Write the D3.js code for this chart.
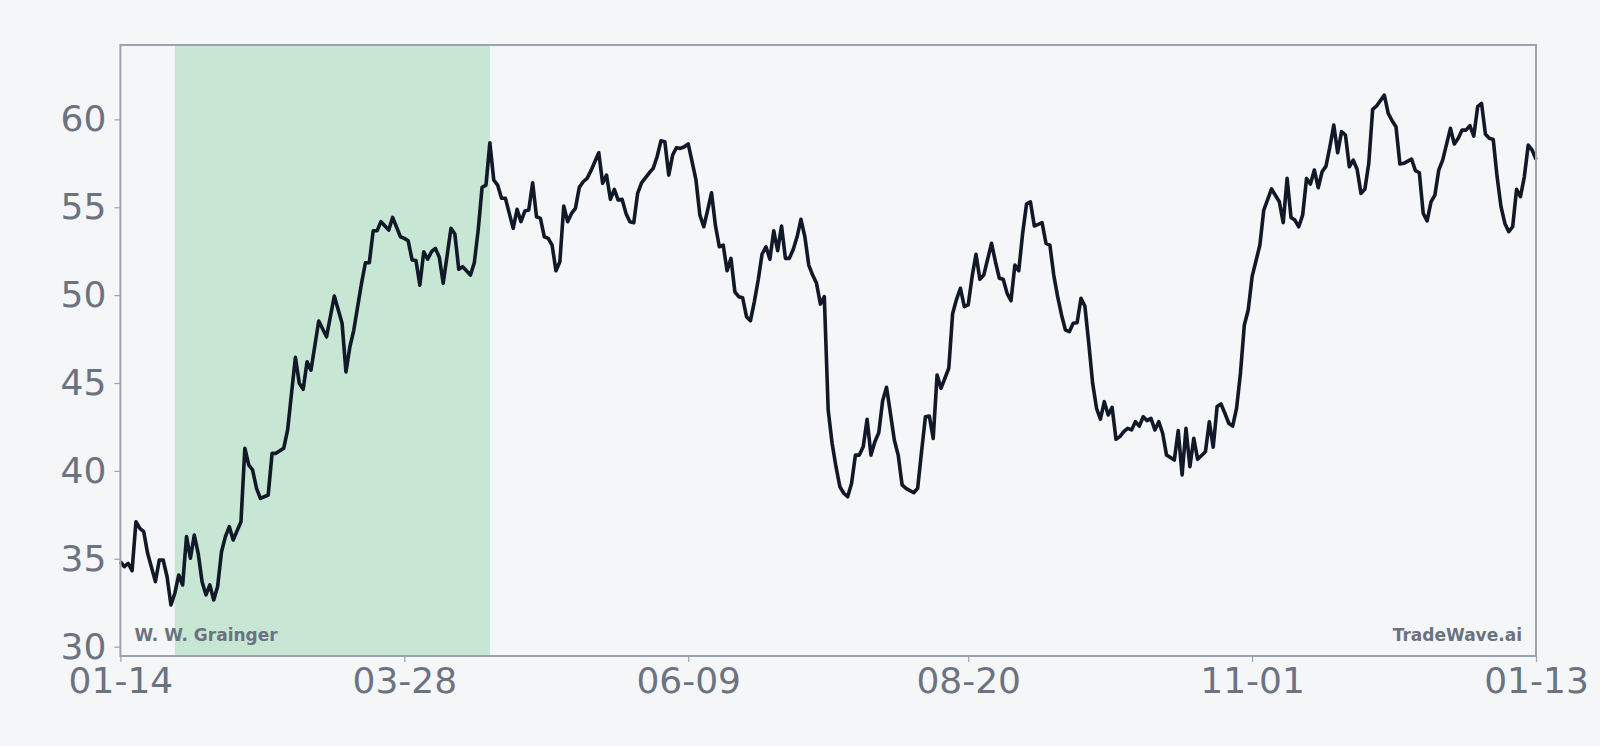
<!DOCTYPE html>
<html><head><meta charset="utf-8">
<script src="https://cdn.jsdelivr.net/npm/d3@7"></script>
<style>html,body{margin:0;padding:0;background:#f4f6f8;}svg{display:block;font-family:"DejaVu Sans",sans-serif;}</style>
</head><body><svg id="c" width="1600" height="746"></svg>
<script>
const startDate = "2023-01-14";
const endDate = "2024-01-13";
const shadeStartDay = 14, shadeEndDay = 95;
const dayOffsets = [0,1,2,3,4,5,6,7,9,10,11,12,13,14,15,16,17,18,19,20,21,22,23,24,25,26,27,28,29,31,32,33,34,35,36,38,39,40,42,43,44,45,46,47,48,49,51,53,55,57,58,59,60,62,63,64,65,66,67,69,70,72,73,74,75,76,77,78,79,80,81,82,83,85,86,87,88,90,91,92,93,94,95,96,97,98,99,100,
101,102,103,104,105,106,107,108,109,110,111,112,113,114,115,116,117,118,119,120,121,123,124,125,126,127,128,129,130,131,132,133,134,136,137,138,139,140,141,142,143,144,145,146,147,148,149,150,151,152,153,154,155,156,157,158,159,160,161,162,163,164,165,166,167,168,169,170,171,172,173,174,175,176,177,178,179,180,181,182,183,184,185,186,187,188,189,190,191,192,193,194,
195,196,197,198,199,200,201,202,204,205,206,207,208,209,210,211,213,214,215,216,217,218,219,220,221,222,224,225,226,227,228,229,230,231,232,233,234,235,237,238,239,240,241,242,243,244,245,246,247,248,249,250,251,252,253,254,255,256,257,258,259,260,261,262,263,264,265,266,267,268,269,271,272,273,274,275,276,277,279,280,281,282,
283,284,285,286,287,288,289,290,291,293,294,296,298,299,300,301,302,303,304,305,306,307,308,309,310,311,312,313,314,315,316,317,318,319,320,321,322,323,325,326,327,328,329,330,332,333,334,335,336,337,338,339,340,342,343,344,345,346,347,348,349,350,351,352,353,354,355,356,357,358,359,360,361,362,363,364];
const prices = [34.84,34.55,34.74,34.32,37.11,36.73,36.54,35.31,33.70,34.93,34.93,33.98,32.37,33.04,34.08,33.51,36.26,35.03,36.35,35.31,33.70,32.95,33.51,32.66,33.42,35.40,36.26,36.83,36.07,37.11,41.29,40.34,40.05,39.01,38.44,38.63,41.00,41.00,41.29,42.33,44.41,46.46,44.98,44.64,46.21,45.73,48.53,47.63,49.95,48.40,45.63,47.05,48.00,50.67,51.84,51.84,53.66,53.66,54.18,53.70,54.42,53.32,53.23,53.09,52.00,51.97,50.57,52.47,52.04,52.47,52.66,52.15,50.67,53.80,53.48,51.47,51.62,51.14,51.84,53.70,56.13,56.26,58.67,56.55,56.26,55.51,55.51,54.65,
53.80,54.88,54.18,54.78,54.84,56.39,54.46,54.37,53.32,53.23,52.85,51.39,51.90,55.07,54.18,54.65,54.94,56.13,56.45,56.64,57.08,58.10,56.36,56.83,55.45,56.02,55.41,55.45,54.65,54.18,54.12,55.79,56.39,56.96,57.21,57.87,58.78,58.73,56.83,57.97,58.39,58.35,58.44,58.60,57.59,56.55,54.56,53.89,54.84,55.82,53.97,52.75,52.85,51.39,52.09,50.19,49.91,49.85,48.77,48.54,49.62,50.86,52.34,52.75,52.04,53.66,52.53,53.93,52.09,52.09,52.60,53.32,54.31,53.32,51.71,51.14,50.67,49.49,49.91,43.46,41.57,40.24,39.10,38.73,38.53,39.29,40.90,40.90,41.38,42.94,40.90,41.66,
42.17,43.99,44.76,43.28,41.76,40.90,39.20,39.01,38.76,39.01,41.09,43.08,43.12,41.85,45.46,44.70,45.84,48.96,49.76,50.39,49.34,49.44,51.05,52.32,50.90,51.14,52.95,51.90,50.96,50.90,50.10,49.68,51.71,51.39,53.52,55.18,55.31,53.93,54.12,52.95,52.85,51.14,49.91,48.87,48.02,47.92,48.40,48.43,49.82,49.38,47.26,44.98,43.56,42.94,43.94,43.18,43.62,41.80,41.95,42.23,42.42,42.33,42.80,42.55,43.08,42.86,42.99,42.33,42.80,42.14,40.90,40.62,42.29,39.77,42.42,40.24,41.85,40.66,41.09,42.80,41.35,43.66,
43.81,43.28,42.71,42.55,43.56,45.55,48.30,49.15,51.05,52.85,54.84,56.04,55.31,54.12,56.64,54.42,54.27,53.89,54.56,56.64,56.32,57.12,56.11,57.02,57.34,58.44,59.68,58.10,59.30,59.11,57.30,57.68,57.16,55.79,56.02,57.50,60.57,60.76,61.38,60.34,59.92,59.58,57.46,57.50,57.74,57.08,56.96,54.65,54.22,55.31,55.69,57.12,57.68,59.49,58.60,58.92,59.39,59.39,59.64,59.05,60.72,60.91,59.15,58.92,58.86,56.73,55.03,54.08,53.61,53.89,56.02,55.60,56.73,58.54,58.25,57.72];
const yTicks = [30,35,40,45,50,55,60];
const xTickLabels = ["01-14","03-28","06-09","08-20","11-01","01-13"];
const xTickDays = [0,73,146,218,291,364];
const leftLabel = "W. W. Grainger", rightLabel = "TradeWave.ai";

const parse = d3.timeParse("%Y-%m-%d");
const base = parse(startDate);
const dayToDate = d => d3.timeDay.offset(base, d);
const data = dayOffsets.map((d,i)=>({date: dayToDate(d), v: prices[i]}));

const svg = d3.select("#c");
const L=120.4, R=1536, T=45, B=656;
const x = d3.scaleTime().domain([base, parse(endDate)]).range([L,R]);
const y = d3.scaleLinear().domain([29.47,64.23]).range([B,T]);
const txt="#6b7280", axc="#9ca3af";

svg.append("rect").attr("x",x(dayToDate(shadeStartDay))).attr("y",T)
  .attr("width",x(dayToDate(shadeEndDay))-x(dayToDate(shadeStartDay))).attr("height",B-T).attr("fill","#c8e6d4");

svg.append("path").datum(data).attr("fill","none").attr("stroke","#111827").attr("stroke-width",3.6)
  .attr("stroke-linejoin","round")
  .attr("d", d3.line().x(d=>x(d.date)).y(d=>y(d.v)));

svg.append("rect").attr("x",L).attr("y",T).attr("width",R-L).attr("height",B-T)
  .attr("fill","none").attr("stroke",axc).attr("stroke-width",2);

const ya = svg.append("g").attr("transform",`translate(${L},0)`)
  .call(d3.axisLeft(y).tickValues(yTicks).tickSize(6).tickPadding(8));
const xa = svg.append("g").attr("transform",`translate(0,${B})`)
  .call(d3.axisBottom(x).tickValues(xTickDays.map(dayToDate)).tickFormat((d,i)=>xTickLabels[i]).tickSize(6).tickPadding(5));
[ya,xa].forEach(g=>{g.select(".domain").remove();
  g.selectAll("line").attr("stroke",axc).attr("stroke-width",1.2);
  g.selectAll("text").attr("fill",txt).style("font-size","36px").style("font-family","DejaVu Sans");});

svg.append("text").attr("x",L+14).attr("y",B-15).text(leftLabel)
  .attr("fill",txt).style("font-size","17px").style("font-weight","bold");
svg.append("text").attr("x",R-14).attr("y",B-15).attr("text-anchor","end").text(rightLabel)
  .attr("fill",txt).style("font-size","17px").style("font-weight","bold");
</script></body></html>
